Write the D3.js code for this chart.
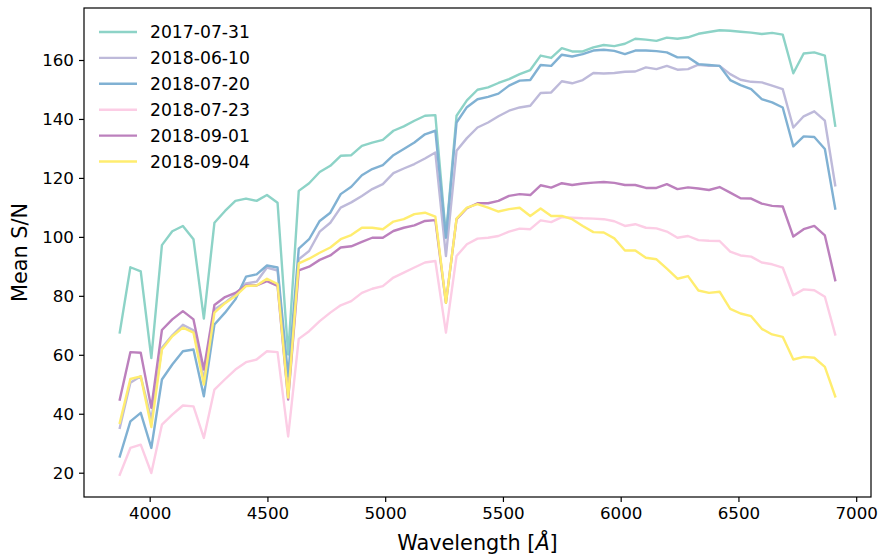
<!DOCTYPE html>
<html>
<head>
<meta charset="utf-8">
<script src="https://cdn.jsdelivr.net/npm/d3@7"></script>
<style>
  html, body { margin: 0; padding: 0; background: #fff; }
  svg { display: block; }
  text { font-family: "DejaVu Sans", sans-serif; fill: #000; }
</style>
</head>
<body>
<svg id="chart" width="879" height="558"></svg>
<script>
// ---------- data ----------
const wavelengths = [3873,3918,3962,4007,4052,4096,4141,4186,4230,4275,4320,4364,4409,4454,4498,4543,4588,4633,4677,4722,4767,4811,4856,4901,4945,4990,5035,5079,5124,5169,5213,5258,5303,5347,5392,5437,5481,5526,5571,5616,5660,5705,5750,5794,5839,5884,5928,5973,6018,6062,6107,6152,6196,6241,6286,6330,6375,6420,6465,6509,6554,6599,6643,6688,6733,6777,6822,6867,6911];

const seriesNames = ["2017-07-31", "2018-06-10", "2018-07-20", "2018-07-23", "2018-09-01", "2018-09-04"];

const sn_20170731 = [67.6,89.7,88.3,58.9,97.2,101.9,103.7,99.2,72.3,104.8,108.8,112.2,113.0,112.2,114.2,111.6,60.1,115.6,118.2,122.0,124.1,127.5,127.7,130.9,132.0,132.9,136.0,137.5,139.4,141.1,141.3,100.3,141.1,146.3,149.9,150.7,152.2,153.5,155.2,156.6,161.5,160.7,164.0,162.9,162.9,164.3,165.1,164.7,165.5,167.2,166.9,166.5,167.6,167.2,167.7,168.9,169.5,170.1,169.9,169.6,169.3,168.8,169.2,168.6,155.5,162.2,162.6,161.5,137.7];

const sn_20180610 = [35.2,50.5,52.7,38.0,62.4,66.6,70.2,68.3,51.6,75.4,77.7,80.5,84.2,84.8,89.6,88.6,49.0,92.4,95.2,101.8,104.8,109.9,111.7,113.9,116.2,117.9,121.6,123.2,124.7,126.6,128.6,93.5,129.2,133.5,137.1,138.8,140.9,142.8,143.9,144.5,148.8,149.0,152.8,152.1,153.2,155.6,155.4,155.6,156.0,156.1,157.5,156.9,158.0,156.7,156.9,158.4,158.0,158.0,155.2,153.3,152.6,152.4,151.3,150.1,137.1,140.9,142.6,139.4,117.5];

const sn_20180720 = [25.5,37.4,40.3,28.4,51.6,56.7,61.2,61.8,45.9,70.3,74.3,78.8,86.5,87.3,90.3,89.6,52.7,96.0,99.2,105.4,108.2,114.5,117.0,120.9,123.0,124.3,127.7,129.8,132.0,134.8,136.0,99.7,138.8,144.0,146.7,147.5,148.6,151.3,153.0,153.2,158.3,158.0,161.8,161.2,162.0,163.2,163.5,163.1,162.0,163.2,163.2,163.0,162.6,160.9,160.9,158.6,158.3,158.0,153.2,151.5,150.1,146.7,145.6,143.9,130.7,134.1,133.9,129.8,109.6];

const sn_20180723 = [19.3,28.4,29.5,19.9,36.3,39.7,42.8,42.5,31.8,48.2,51.7,55.0,57.5,58.4,61.2,60.9,32.3,65.4,68.0,71.4,74.3,76.8,78.2,81.0,82.4,83.3,86.2,87.9,89.6,91.3,91.8,67.5,93.5,97.5,99.4,99.7,100.3,101.8,102.8,102.6,105.6,105.0,106.7,106.5,106.3,106.2,106.0,105.3,103.7,104.3,103.1,102.9,101.8,99.7,100.3,98.9,98.7,98.6,95.0,93.7,93.3,91.3,90.7,89.6,80.2,82.2,81.9,79.7,66.9];

const sn_20180901 = [44.8,60.9,60.7,42.0,68.4,72.0,74.8,72.0,55.0,76.9,79.6,81.0,83.5,83.5,85.0,83.4,44.8,88.6,89.9,92.2,93.7,96.4,96.8,98.3,99.7,99.7,102.0,103.1,103.9,105.4,105.7,77.6,106.0,109.7,111.4,111.4,112.2,113.9,114.5,114.2,117.5,116.7,118.2,117.6,118.1,118.4,118.6,118.3,117.6,117.6,116.6,116.6,117.9,116.2,116.8,116.4,115.9,116.9,115.0,113.1,113.0,111.3,110.5,110.3,100.1,102.6,103.7,100.5,85.3];

const sn_20180904 = [36.9,51.8,52.7,35.5,61.8,66.3,69.2,67.5,49.9,74.3,77.5,79.9,83.3,83.5,85.8,84.0,45.5,91.0,92.6,94.6,96.4,99.2,100.6,103.1,103.1,102.6,105.2,106.0,107.7,108.2,106.9,77.6,106.2,109.9,111.1,109.9,108.6,109.4,109.9,107.1,109.6,107.1,107.1,106.0,103.7,101.6,101.5,99.5,95.4,95.4,92.9,92.4,89.2,85.8,86.7,81.8,81.0,81.4,75.6,74.0,73.1,68.8,66.9,66.1,58.4,59.3,59.0,55.9,45.9];

const seriesValues = [sn_20170731, sn_20180610, sn_20180720, sn_20180723, sn_20180901, sn_20180904];
const seriesColors = ["#8dd3c7", "#bebada", "#80b1d3", "#fccde5", "#bc80bd", "#ffed6f"];

const xTicks = [4000, 4500, 5000, 5500, 6000, 6500, 7000];
const yTicks = [20, 40, 60, 80, 100, 120, 140, 160];

const xLabel = "Wavelength [";
const xLabelUnit = "Å";
const yLabel = "Mean S/N";

// ---------- layout ----------
const svg = d3.select("#chart");
const plot = { left: 84, right: 871, top: 8, bottom: 497 };

function padded(ext) {
  const d = ext[1] - ext[0];
  return [ext[0] - 0.05 * d, ext[1] + 0.05 * d];
}
const allVals = seriesValues.flat();
const x = d3.scaleLinear().domain(padded(d3.extent(wavelengths))).range([plot.left, plot.right]);
const y = d3.scaleLinear().domain(padded(d3.extent(allVals))).range([plot.bottom, plot.top]);

// clip
svg.append("defs").append("clipPath").attr("id", "clip")
  .append("rect").attr("x", plot.left).attr("y", plot.top)
  .attr("width", plot.right - plot.left).attr("height", plot.bottom - plot.top);

// lines
const lw = 2.4;
const line = d3.line().x((d, i) => x(wavelengths[i])).y(d => y(d));
const g = svg.append("g").attr("clip-path", "url(#clip)");
seriesValues.forEach((vals, k) => {
  g.append("path")
    .datum(vals)
    .attr("d", line)
    .attr("fill", "none")
    .attr("stroke", seriesColors[k])
    .attr("stroke-width", lw)
    .attr("stroke-linejoin", "round")
    .attr("stroke-linecap", "square");
});

// axes
const fontTick = 16.7;
const xAxis = d3.axisBottom(x).tickValues(xTicks).tickSize(5).tickPadding(5).tickFormat(d3.format("d"));
const yAxis = d3.axisLeft(y).tickValues(yTicks).tickSize(5).tickPadding(5).tickFormat(d3.format("d"));

const gx = svg.append("g").attr("transform", `translate(0,${plot.bottom})`).call(xAxis);
const gy = svg.append("g").attr("transform", `translate(${plot.left},0)`).call(yAxis);
[gx, gy].forEach(a => {
  a.select(".domain").remove();
  a.selectAll(".tick line").attr("stroke", "#000").attr("stroke-width", 1.2);
  a.selectAll(".tick text").attr("font-family", "DejaVu Sans").attr("font-size", fontTick).attr("fill", "#000");
});

// frame
svg.append("rect")
  .attr("x", plot.left).attr("y", plot.top)
  .attr("width", plot.right - plot.left).attr("height", plot.bottom - plot.top)
  .attr("fill", "none").attr("stroke", "#000").attr("stroke-width", 1.2);

// axis labels
const xl = svg.append("text")
  .attr("x", (plot.left + plot.right) / 2).attr("y", 550)
  .attr("text-anchor", "middle").attr("font-size", 20.8);
xl.append("tspan").text(xLabel);
xl.append("tspan").attr("font-style", "italic").text(xLabelUnit);
xl.append("tspan").text("]");

svg.append("text")
  .attr("transform", `translate(20,${(plot.top + plot.bottom) / 2}) rotate(-90)`)
  .attr("text-anchor", "middle").attr("dominant-baseline", "central")
  .attr("font-size", 20.8).text(yLabel);

// legend
const legend = svg.append("g");
seriesNames.forEach((name, k) => {
  const yy = 32 + k * 25.9;
  legend.append("line")
    .attr("x1", 99).attr("x2", 137).attr("y1", yy).attr("y2", yy)
    .attr("stroke", seriesColors[k]).attr("stroke-width", lw);
  legend.append("text")
    .attr("x", 150).attr("y", yy).attr("dominant-baseline", "central")
    .attr("font-size", 17.2).text(name);
});
</script>
</body>
</html>
